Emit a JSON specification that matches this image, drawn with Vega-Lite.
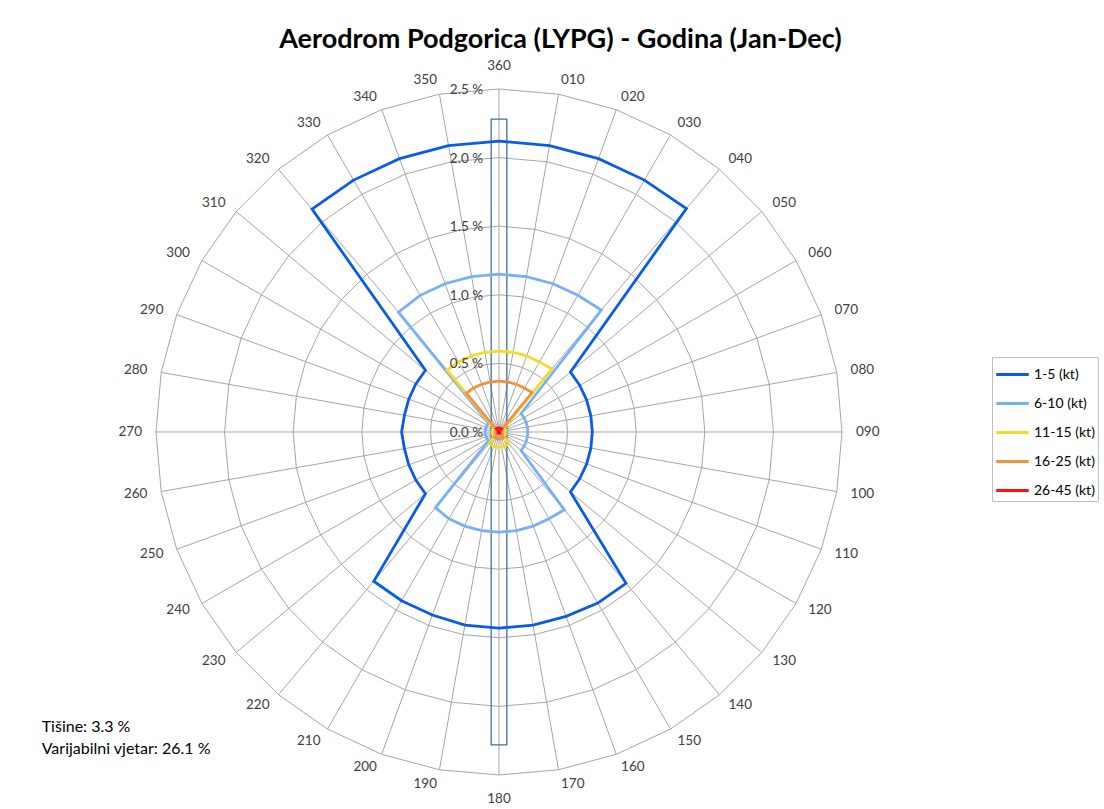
{
  "$schema": "https://vega.github.io/schema/vega-lite/v6.json",
  "width": 1104,
  "height": 809,
  "autosize": "none",
  "padding": 0,
  "background": "white",
  "config": {"view": {"stroke": null}, "font": "Lato"},
  "datasets": {
    "rose": [
      {"dir": 0, "lab": "360", "1-5 (kt)": 2.12, "6-10 (kt)": 1.15, "11-15 (kt)": 0.59, "16-25 (kt)": 0.37, "26-45 (kt)": 0.03},
      {"dir": 10, "lab": "010", "1-5 (kt)": 2.12, "6-10 (kt)": 1.15, "11-15 (kt)": 0.59, "16-25 (kt)": 0.37, "26-45 (kt)": 0.03},
      {"dir": 20, "lab": "020", "1-5 (kt)": 2.12, "6-10 (kt)": 1.15, "11-15 (kt)": 0.59, "16-25 (kt)": 0.37, "26-45 (kt)": 0.03},
      {"dir": 30, "lab": "030", "1-5 (kt)": 2.12, "6-10 (kt)": 1.15, "11-15 (kt)": 0.59, "16-25 (kt)": 0.37, "26-45 (kt)": 0.03},
      {"dir": 40, "lab": "040", "1-5 (kt)": 2.125, "6-10 (kt)": 1.16, "11-15 (kt)": 0.6, "16-25 (kt)": 0.375, "26-45 (kt)": 0.03},
      {"dir": 50, "lab": "050", "1-5 (kt)": 0.68, "6-10 (kt)": 0.21, "11-15 (kt)": 0.05, "16-25 (kt)": 0.02, "26-45 (kt)": 0.005},
      {"dir": 60, "lab": "060", "1-5 (kt)": 0.68, "6-10 (kt)": 0.21, "11-15 (kt)": 0.05, "16-25 (kt)": 0.02, "26-45 (kt)": 0.005},
      {"dir": 70, "lab": "070", "1-5 (kt)": 0.68, "6-10 (kt)": 0.21, "11-15 (kt)": 0.05, "16-25 (kt)": 0.02, "26-45 (kt)": 0.005},
      {"dir": 80, "lab": "080", "1-5 (kt)": 0.68, "6-10 (kt)": 0.21, "11-15 (kt)": 0.05, "16-25 (kt)": 0.02, "26-45 (kt)": 0.005},
      {"dir": 90, "lab": "090", "1-5 (kt)": 0.68, "6-10 (kt)": 0.21, "11-15 (kt)": 0.05, "16-25 (kt)": 0.02, "26-45 (kt)": 0.005},
      {"dir": 100, "lab": "100", "1-5 (kt)": 0.68, "6-10 (kt)": 0.21, "11-15 (kt)": 0.05, "16-25 (kt)": 0.02, "26-45 (kt)": 0.005},
      {"dir": 110, "lab": "110", "1-5 (kt)": 0.68, "6-10 (kt)": 0.21, "11-15 (kt)": 0.05, "16-25 (kt)": 0.02, "26-45 (kt)": 0.005},
      {"dir": 120, "lab": "120", "1-5 (kt)": 0.68, "6-10 (kt)": 0.21, "11-15 (kt)": 0.05, "16-25 (kt)": 0.02, "26-45 (kt)": 0.005},
      {"dir": 130, "lab": "130", "1-5 (kt)": 0.68, "6-10 (kt)": 0.21, "11-15 (kt)": 0.05, "16-25 (kt)": 0.02, "26-45 (kt)": 0.005},
      {"dir": 140, "lab": "140", "1-5 (kt)": 1.44, "6-10 (kt)": 0.74, "11-15 (kt)": 0.11, "16-25 (kt)": 0.05, "26-45 (kt)": 0.01},
      {"dir": 150, "lab": "150", "1-5 (kt)": 1.44, "6-10 (kt)": 0.73, "11-15 (kt)": 0.11, "16-25 (kt)": 0.05, "26-45 (kt)": 0.01},
      {"dir": 160, "lab": "160", "1-5 (kt)": 1.43, "6-10 (kt)": 0.73, "11-15 (kt)": 0.11, "16-25 (kt)": 0.05, "26-45 (kt)": 0.01},
      {"dir": 170, "lab": "170", "1-5 (kt)": 1.43, "6-10 (kt)": 0.73, "11-15 (kt)": 0.11, "16-25 (kt)": 0.05, "26-45 (kt)": 0.01},
      {"dir": 180, "lab": "180", "1-5 (kt)": 1.43, "6-10 (kt)": 0.73, "11-15 (kt)": 0.11, "16-25 (kt)": 0.05, "26-45 (kt)": 0.01},
      {"dir": 190, "lab": "190", "1-5 (kt)": 1.43, "6-10 (kt)": 0.73, "11-15 (kt)": 0.11, "16-25 (kt)": 0.05, "26-45 (kt)": 0.01},
      {"dir": 200, "lab": "200", "1-5 (kt)": 1.42, "6-10 (kt)": 0.73, "11-15 (kt)": 0.11, "16-25 (kt)": 0.05, "26-45 (kt)": 0.01},
      {"dir": 210, "lab": "210", "1-5 (kt)": 1.42, "6-10 (kt)": 0.73, "11-15 (kt)": 0.11, "16-25 (kt)": 0.05, "26-45 (kt)": 0.01},
      {"dir": 220, "lab": "220", "1-5 (kt)": 1.42, "6-10 (kt)": 0.72, "11-15 (kt)": 0.11, "16-25 (kt)": 0.05, "26-45 (kt)": 0.01},
      {"dir": 230, "lab": "230", "1-5 (kt)": 0.7, "6-10 (kt)": 0.1, "11-15 (kt)": 0.05, "16-25 (kt)": 0.02, "26-45 (kt)": 0.005},
      {"dir": 240, "lab": "240", "1-5 (kt)": 0.7, "6-10 (kt)": 0.1, "11-15 (kt)": 0.05, "16-25 (kt)": 0.02, "26-45 (kt)": 0.005},
      {"dir": 250, "lab": "250", "1-5 (kt)": 0.7, "6-10 (kt)": 0.1, "11-15 (kt)": 0.05, "16-25 (kt)": 0.02, "26-45 (kt)": 0.005},
      {"dir": 260, "lab": "260", "1-5 (kt)": 0.7, "6-10 (kt)": 0.1, "11-15 (kt)": 0.05, "16-25 (kt)": 0.02, "26-45 (kt)": 0.005},
      {"dir": 270, "lab": "270", "1-5 (kt)": 0.71, "6-10 (kt)": 0.1, "11-15 (kt)": 0.05, "16-25 (kt)": 0.02, "26-45 (kt)": 0.005},
      {"dir": 280, "lab": "280", "1-5 (kt)": 0.7, "6-10 (kt)": 0.1, "11-15 (kt)": 0.05, "16-25 (kt)": 0.02, "26-45 (kt)": 0.005},
      {"dir": 290, "lab": "290", "1-5 (kt)": 0.7, "6-10 (kt)": 0.1, "11-15 (kt)": 0.05, "16-25 (kt)": 0.02, "26-45 (kt)": 0.005},
      {"dir": 300, "lab": "300", "1-5 (kt)": 0.7, "6-10 (kt)": 0.1, "11-15 (kt)": 0.05, "16-25 (kt)": 0.02, "26-45 (kt)": 0.005},
      {"dir": 310, "lab": "310", "1-5 (kt)": 0.7, "6-10 (kt)": 0.1, "11-15 (kt)": 0.05, "16-25 (kt)": 0.02, "26-45 (kt)": 0.005},
      {"dir": 320, "lab": "320", "1-5 (kt)": 2.12, "6-10 (kt)": 1.14, "11-15 (kt)": 0.59, "16-25 (kt)": 0.37, "26-45 (kt)": 0.03},
      {"dir": 330, "lab": "330", "1-5 (kt)": 2.12, "6-10 (kt)": 1.15, "11-15 (kt)": 0.59, "16-25 (kt)": 0.37, "26-45 (kt)": 0.03},
      {"dir": 340, "lab": "340", "1-5 (kt)": 2.12, "6-10 (kt)": 1.15, "11-15 (kt)": 0.59, "16-25 (kt)": 0.37, "26-45 (kt)": 0.03},
      {"dir": 350, "lab": "350", "1-5 (kt)": 2.12, "6-10 (kt)": 1.15, "11-15 (kt)": 0.59, "16-25 (kt)": 0.37, "26-45 (kt)": 0.03}
    ],
    "grid": [
      {"lv": 0, "t": "0.0 %", "dirs": []},
      {"lv": 0.5, "t": "0.5 %", "dirs": [0,10,20,30,40,50,60,70,80,90,100,110,120,130,140,150,160,170,180,190,200,210,220,230,240,250,260,270,280,290,300,310,320,330,340,350]},
      {"lv": 1, "t": "1.0 %", "dirs": [0,10,20,30,40,50,60,70,80,90,100,110,120,130,140,150,160,170,180,190,200,210,220,230,240,250,260,270,280,290,300,310,320,330,340,350]},
      {"lv": 1.5, "t": "1.5 %", "dirs": [0,10,20,30,40,50,60,70,80,90,100,110,120,130,140,150,160,170,180,190,200,210,220,230,240,250,260,270,280,290,300,310,320,330,340,350]},
      {"lv": 2, "t": "2.0 %", "dirs": [0,10,20,30,40,50,60,70,80,90,100,110,120,130,140,150,160,170,180,190,200,210,220,230,240,250,260,270,280,290,300,310,320,330,340,350]},
      {"lv": 2.5, "t": "2.5 %", "dirs": [0,10,20,30,40,50,60,70,80,90,100,110,120,130,140,150,160,170,180,190,200,210,220,230,240,250,260,270,280,290,300,310,320,330,340,350]}
    ]
  },
  "layer": [
    {
      "data": {"name": "grid"},
      "transform": [
        {"filter": "datum.lv > 0"},
        {"flatten": ["dirs"], "as": ["dir"]},
        {"calculate": "datum.lv * sin(datum.dir * PI / 180)", "as": "gx"},
        {"calculate": "datum.lv * cos(datum.dir * PI / 180)", "as": "gy"}
      ],
      "mark": {"type": "line", "interpolate": "linear-closed", "stroke": "#a6a6a6", "strokeWidth": 1},
      "encoding": {
        "x": {"field": "gx", "type": "quantitative", "scale": {"domain": [-3.637, 4.4096], "nice": false, "zero": false}, "axis": null},
        "y": {"field": "gy", "type": "quantitative", "scale": {"domain": [-2.748, 3.1487], "nice": false, "zero": false}, "axis": null},
        "detail": {"field": "lv", "type": "nominal"},
        "order": {"field": "dir", "type": "quantitative"}
      }
    },
    {
      "data": {"name": "rose"},
      "transform": [
        {"calculate": "0", "as": "ox"},
        {"calculate": "2.5 * sin(datum.dir * PI / 180)", "as": "sx"},
        {"calculate": "2.5 * cos(datum.dir * PI / 180)", "as": "sy"}
      ],
      "mark": {"type": "rule", "stroke": "#a6a6a6", "strokeWidth": 1},
      "encoding": {
        "x": {"field": "ox", "type": "quantitative", "scale": {"domain": [-3.637, 4.4096], "nice": false, "zero": false}, "axis": null},
        "y": {"field": "ox", "type": "quantitative", "scale": {"domain": [-2.748, 3.1487], "nice": false, "zero": false}, "axis": null},
        "x2": {"field": "sx"},
        "y2": {"field": "sy"}
      }
    },
    {
      "data": {"values": [{"half": 2.28}]},
      "transform": [
        {"calculate": "-datum.half", "as": "lo"},
        {"calculate": "-0.057", "as": "xl"},
        {"calculate": "0.057", "as": "xr"}
      ],
      "mark": {"type": "rect", "fill": null, "stroke": "#41719c", "strokeWidth": 1.3},
      "encoding": {
        "x": {"field": "xl", "type": "quantitative", "scale": {"domain": [-3.637, 4.4096], "nice": false, "zero": false}, "axis": null},
        "x2": {"field": "xr"},
        "y": {"field": "lo", "type": "quantitative", "scale": {"domain": [-2.748, 3.1487], "nice": false, "zero": false}, "axis": null},
        "y2": {"field": "half"}
      }
    },
    {
      "data": {"name": "rose"},
      "transform": [
        {"fold": ["1-5 (kt)", "6-10 (kt)", "11-15 (kt)", "16-25 (kt)", "26-45 (kt)"], "as": ["s", "v"]},
        {"calculate": "datum.v * sin(datum.dir * PI / 180)", "as": "px"},
        {"calculate": "datum.v * cos(datum.dir * PI / 180)", "as": "py"}
      ],
      "mark": {"type": "line", "interpolate": "linear-closed", "strokeWidth": 2.8, "strokeJoin": "miter"},
      "encoding": {
        "x": {"field": "px", "type": "quantitative", "scale": {"domain": [-3.637, 4.4096], "nice": false, "zero": false}, "axis": null},
        "y": {"field": "py", "type": "quantitative", "scale": {"domain": [-2.748, 3.1487], "nice": false, "zero": false}, "axis": null},
        "order": {"field": "dir", "type": "quantitative"},
        "color": {
          "field": "s",
          "type": "nominal",
          "scale": {
            "domain": ["1-5 (kt)", "6-10 (kt)", "11-15 (kt)", "16-25 (kt)", "26-45 (kt)"],
            "range": ["#0a5ce6", "#78b0f5", "#f2dc28", "#f5913e", "#ff1010"]
          },
          "legend": {
            "title": null,
            "orient": "none",
            "legendX": 992,
            "legendY": 357,
            "padding": 3,
            "symbolOffset": 3,
            "strokeColor": "#bfbfbf",
            "fillColor": "white",
            "symbolType": "M-1.25,0H1.25",
            "symbolSize": 676,
            "symbolStrokeWidth": 3,
            "rowPadding": 7,
            "labelOffset": 7,
            "labelFont": "Lato",
            "labelFontSize": 14,
            "labelColor": "#000000"
          }
        }
      }
    },
    {
      "data": {"name": "rose"},
      "transform": [
        {"filter": "datum.dir > 0 && datum.dir < 180"},
        {"calculate": "2.602 * sin(datum.dir * PI / 180)", "as": "lx"},
        {"calculate": "2.602 * cos(datum.dir * PI / 180)", "as": "ly"}
      ],
      "mark": {"type": "text", "font": "Lato", "fontSize": 13.5, "fill": "#404040", "align": "left", "baseline": "middle"},
      "encoding": {
        "x": {"field": "lx", "type": "quantitative", "scale": {"domain": [-3.637, 4.4096], "nice": false, "zero": false}, "axis": null},
        "y": {"field": "ly", "type": "quantitative", "scale": {"domain": [-2.748, 3.1487], "nice": false, "zero": false}, "axis": null},
        "text": {"field": "lab", "type": "nominal"}
      }
    },
    {
      "data": {"name": "rose"},
      "transform": [
        {"filter": "datum.dir > 180"},
        {"calculate": "2.602 * sin(datum.dir * PI / 180)", "as": "lx"},
        {"calculate": "2.602 * cos(datum.dir * PI / 180)", "as": "ly"}
      ],
      "mark": {"type": "text", "font": "Lato", "fontSize": 13.5, "fill": "#404040", "align": "right", "baseline": "middle"},
      "encoding": {
        "x": {"field": "lx", "type": "quantitative", "scale": {"domain": [-3.637, 4.4096], "nice": false, "zero": false}, "axis": null},
        "y": {"field": "ly", "type": "quantitative", "scale": {"domain": [-2.748, 3.1487], "nice": false, "zero": false}, "axis": null},
        "text": {"field": "lab", "type": "nominal"}
      }
    },
    {
      "data": {"name": "rose"},
      "transform": [
        {"filter": "datum.dir == 0"},
        {"calculate": "0", "as": "lx"},
        {"calculate": "2.602", "as": "ly"}
      ],
      "mark": {"type": "text", "font": "Lato", "fontSize": 13.5, "fill": "#404040", "align": "center", "baseline": "bottom", "dy": -2},
      "encoding": {
        "x": {"field": "lx", "type": "quantitative", "scale": {"domain": [-3.637, 4.4096], "nice": false, "zero": false}, "axis": null},
        "y": {"field": "ly", "type": "quantitative", "scale": {"domain": [-2.748, 3.1487], "nice": false, "zero": false}, "axis": null},
        "text": {"field": "lab", "type": "nominal"}
      }
    },
    {
      "data": {"name": "rose"},
      "transform": [
        {"filter": "datum.dir == 180"},
        {"calculate": "0", "as": "lx"},
        {"calculate": "-2.602", "as": "ly"}
      ],
      "mark": {"type": "text", "font": "Lato", "fontSize": 13.5, "fill": "#404040", "align": "center", "baseline": "top", "dy": 3},
      "encoding": {
        "x": {"field": "lx", "type": "quantitative", "scale": {"domain": [-3.637, 4.4096], "nice": false, "zero": false}, "axis": null},
        "y": {"field": "ly", "type": "quantitative", "scale": {"domain": [-2.748, 3.1487], "nice": false, "zero": false}, "axis": null},
        "text": {"field": "lab", "type": "nominal"}
      }
    },
    {
      "data": {"name": "grid"},
      "transform": [{"calculate": "0", "as": "ox"}],
      "mark": {"type": "text", "font": "Lato", "fontSize": 13.5, "fill": "#404040", "align": "right", "baseline": "middle", "dx": -16, "dy": 1},
      "encoding": {
        "x": {"field": "ox", "type": "quantitative", "scale": {"domain": [-3.637, 4.4096], "nice": false, "zero": false}, "axis": null},
        "y": {"field": "lv", "type": "quantitative", "scale": {"domain": [-2.748, 3.1487], "nice": false, "zero": false}, "axis": null},
        "text": {"field": "t", "type": "nominal"}
      }
    },
    {
      "data": {"values": [{"t": "Aerodrom Podgorica (LYPG) - Godina (Jan-Dec)"}]},
      "mark": {"type": "text", "font": "Lato", "fontWeight": "bold", "fontSize": 27, "fill": "#000000", "align": "center", "baseline": "alphabetic"},
      "encoding": {
        "x": {"datum": 0.448, "type": "quantitative", "scale": {"domain": [-3.637, 4.4096], "nice": false, "zero": false}, "axis": null},
        "y": {"datum": 2.799, "type": "quantitative", "scale": {"domain": [-2.748, 3.1487], "nice": false, "zero": false}, "axis": null},
        "text": {"field": "t", "type": "nominal"}
      }
    },
    {
      "data": {"values": [{"t": "Tišine: 3.3 %"}]},
      "mark": {"type": "text", "font": "Lato", "fontSize": 16, "fill": "#000000", "align": "left", "baseline": "alphabetic"},
      "encoding": {
        "x": {"datum": -3.333, "type": "quantitative", "scale": {"domain": [-3.637, 4.4096], "nice": false, "zero": false}, "axis": null},
        "y": {"datum": -2.187, "type": "quantitative", "scale": {"domain": [-2.748, 3.1487], "nice": false, "zero": false}, "axis": null},
        "text": {"field": "t", "type": "nominal"}
      }
    },
    {
      "data": {"values": [{"t": "Varijabilni vjetar: 26.1 %"}]},
      "mark": {"type": "text", "font": "Lato", "fontSize": 16, "fill": "#000000", "align": "left", "baseline": "alphabetic"},
      "encoding": {
        "x": {"datum": -3.333, "type": "quantitative", "scale": {"domain": [-3.637, 4.4096], "nice": false, "zero": false}, "axis": null},
        "y": {"datum": -2.347, "type": "quantitative", "scale": {"domain": [-2.748, 3.1487], "nice": false, "zero": false}, "axis": null},
        "text": {"field": "t", "type": "nominal"}
      }
    }
  ]
}
